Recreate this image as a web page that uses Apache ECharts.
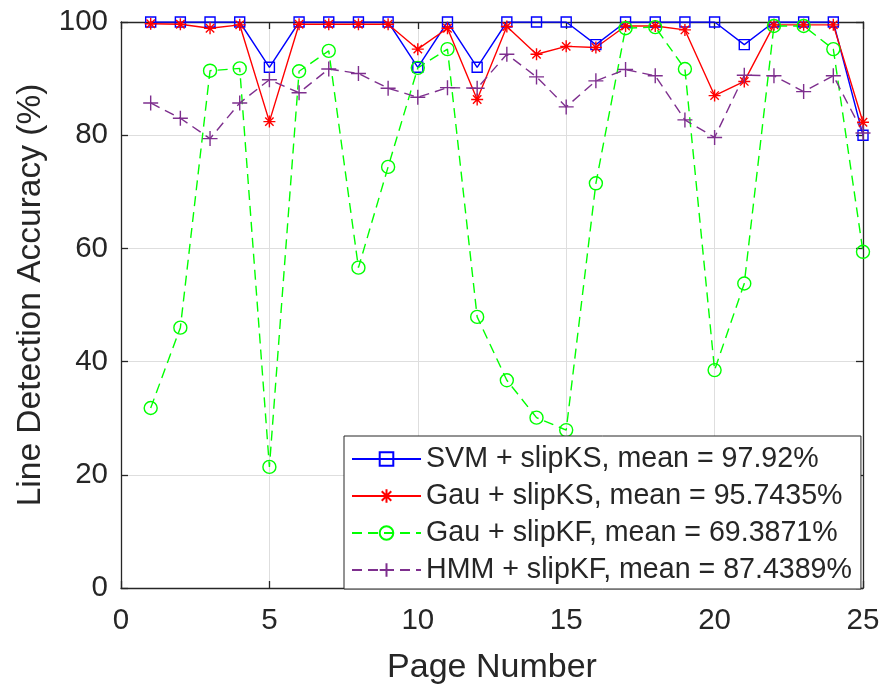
<!DOCTYPE html>
<html>
<head>
<meta charset="utf-8">
<script src="https://cdn.jsdelivr.net/npm/echarts@6/dist/echarts.min.js"></script>
<style>
  html, body { margin: 0; padding: 0; background: #fff; }
  #chart { width: 886px; height: 690px; }
</style>
</head>
<body>
<div id="chart"></div>
<script>
// Page numbers 1..25
const pages = [1,2,3,4,5,6,7,8,9,10,11,12,13,14,15,16,17,18,19,20,21,22,23,24,25];

// Per-page line detection accuracy (%) for each method
const svmSlipKS = [100,100,100,100,92,100,100,100,100,92,100,92,100,100,100,96,100,100,100,100,96,100,100,100,80];
const gauSlipKS = [99.7,99.6,98.9,99.5,82.4,99.6,99.6,99.6,99.6,95.2,98.9,86.3,99.2,94.3,95.7,95.5,99.3,99.3,98.6,87.0,89.5,99.5,99.5,99.5,82.3];
const gauSlipKF = [31.8,46.0,91.4,91.8,21.4,91.3,94.9,56.6,74.4,91.9,95.2,47.9,36.7,30.1,27.9,71.5,98.9,99.1,91.7,38.5,53.8,99.3,99.3,95.2,59.4];
const hmmSlipKF = [85.7,83.0,79.4,85.7,89.8,87.5,91.7,90.9,88.3,86.7,88.4,88.3,94.3,90.3,85.0,89.6,91.6,90.5,82.7,79.6,90.6,90.5,87.7,90.5,80.4];

const seriesNames = [
  'SVM + slipKS, mean = 97.92%',
  'Gau + slipKS, mean = 95.7435%',
  'Gau + slipKF, mean = 69.3871%',
  'HMM + slipKF, mean = 87.4389%'
];

const xTicks = [0, 5, 10, 15, 20, 25];
const yTicks = [0, 20, 40, 60, 80, 100];

const FONT = '"Liberation Sans", Arial, Helvetica, sans-serif';
const INK = '#262626';

const PLUS = 'path://M0,-1L0,1M-1,0L1,0';
const STAR = 'path://M0,-1L0,1M-1,0L1,0M-0.7,-0.7L0.7,0.7M-0.7,0.7L0.7,-0.7';

function pairs(ys) { return pages.map((p, i) => [p, ys[i]]); }

function makeSeries(name, ys, color, symbol, size, dashed) {
  return {
    name: name,
    type: 'line',
    xAxisIndex: 0,
    yAxisIndex: 0,
    data: pairs(ys),
    symbol: symbol,
    symbolSize: size,
    showAllSymbol: true,
    animation: false,
    lineStyle: { color: color, width: 1.4, type: dashed ? [10, 6] : 'solid' },
    itemStyle: { color: 'rgba(0,0,0,0)', borderColor: color, borderWidth: 1.4 },
    emphasis: { disabled: true }
  };
}

const chart = echarts.init(document.getElementById('chart'), null, { renderer: 'canvas' });

const gridBox = { left: 121, right: 23, top: 22, bottom: 102 };

// Frame axes on top/right: ticks only, no labels
function frameAxis(base) {
  return Object.assign({
    type: 'value',
    axisLine: { show: true, onZero: false, lineStyle: { color: INK, width: 1.3 } },
    axisTick: { show: true, inside: true, length: 7, lineStyle: { color: INK, width: 1.3 } },
    axisLabel: { show: false },
    splitLine: { show: false }
  }, base);
}

chart.setOption({
  backgroundColor: '#fff',
  animation: false,
  textStyle: { fontFamily: FONT },
  grid: Object.assign({ containLabel: false }, gridBox),
  legend: {
    orient: 'vertical',
    left: 344,
    top: 436,
    padding: [8, 9, 4, 7],
    itemWidth: 69,
    itemHeight: 17,
    itemGap: 7,
    backgroundColor: '#fff',
    borderColor: INK,
    borderWidth: 1,
    borderRadius: 0,
    textStyle: { fontSize: 28.6, color: INK, fontFamily: FONT, lineHeight: 30 },
    data: seriesNames
  },
  xAxis: [
    {
      type: 'value', min: xTicks[0], max: xTicks[xTicks.length - 1], interval: 5,
      name: 'Page Number', nameLocation: 'middle', nameGap: 63,
      nameTextStyle: { fontSize: 34, color: INK, fontFamily: FONT },
      axisLine: { show: true, onZero: false, lineStyle: { color: INK, width: 1.3 } },
      axisTick: { show: true, inside: true, length: 7, lineStyle: { color: INK, width: 1.3 } },
      axisLabel: { fontSize: 29.5, color: INK, margin: 18, fontFamily: FONT },
      splitLine: { show: true, lineStyle: { color: '#dedede', width: 1 } }
    },
    frameAxis({ min: xTicks[0], max: xTicks[xTicks.length - 1], interval: 5, position: 'top' })
  ],
  yAxis: [
    {
      type: 'value', min: yTicks[0], max: yTicks[yTicks.length - 1], interval: 20,
      name: 'Line Detection Accuracy (%)', nameLocation: 'middle', nameGap: 72,
      nameTextStyle: { fontSize: 33.5, color: INK, fontFamily: FONT, padding: [0, 0, 0, 20] },
      axisLine: { show: true, onZero: false, lineStyle: { color: INK, width: 1.3 } },
      axisTick: { show: true, inside: true, length: 7, lineStyle: { color: INK, width: 1.3 } },
      axisLabel: { fontSize: 29.5, color: INK, margin: 13, fontFamily: FONT },
      splitLine: { show: true, lineStyle: { color: '#dedede', width: 1 } }
    },
    frameAxis({ min: yTicks[0], max: yTicks[yTicks.length - 1], interval: 20, position: 'right' })
  ],
  series: [
    makeSeries(seriesNames[0], svmSlipKS, '#0000ff', 'rect', 10, false),
    makeSeries(seriesNames[1], gauSlipKS, '#ff0000', STAR, 12, false),
    makeSeries(seriesNames[2], gauSlipKF, '#00ff00', 'circle', 13, true),
    makeSeries(seriesNames[3], hmmSlipKF, '#7e2f8e', PLUS, 15, true)
  ]
});
</script>
</body>
</html>
